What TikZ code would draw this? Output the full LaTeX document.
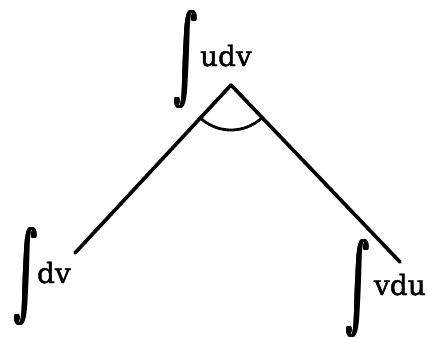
\documentclass[tikz,border=0pt]{standalone}
\usepackage{amsmath}
\usepackage{graphicx}
\usepackage{fontspec}
\setmainfont{DejaVu Serif}
\newfontfamily\termfont{DejaVu Serif}[FakeBold=1.5]
\usepackage{tikz}
\usetikzlibrary{positioning}

% Integral sign, thickened and centred on the math axis
\newcommand{\intglyph}{\resizebox*{24pt}{98pt}{$\int$}}
\newcommand{\bigint}{$\vcenter{\hbox{\rlap{\intglyph}\rlap{\kern0.7pt\intglyph}\rlap{\kern1.4pt\intglyph}\rlap{\kern2.1pt\intglyph}\kern2.8pt\intglyph}}$}

\begin{document}
\begin{tikzpicture}[
    x=1pt, y=1pt,
    term/.style={inner sep=0pt, anchor=base west, font=\termfont\fontsize{28}{28}\selectfont},
    branch/.style={line width=3.6pt, line cap=round},
    angle/.style={line width=2.8pt}
]
\useasboundingbox (0,0) rectangle (427,-338);

% Terms
\node[term] (uv) at (172,-66) {\bigint\hspace{1pt}udv};
\node[term] (v) at (12,-283) {\bigint\hspace{-2pt}dv};
\node[term] (vu) at (344,-295) {\bigint\hspace{3pt}vdu};

% Branch points
\coordinate (apex) at (231,-85);
\coordinate (lend) at (75,-253);
\coordinate (rend) at (400,-262);

% Branches
\draw[branch] (apex) -- (lend);
\draw[branch] (apex) -- (rend);

% Angle mark
\draw[angle] (apex) ++(228:45) arc[start angle=228, end angle=313, radius=45];

\end{tikzpicture}
\end{document}
